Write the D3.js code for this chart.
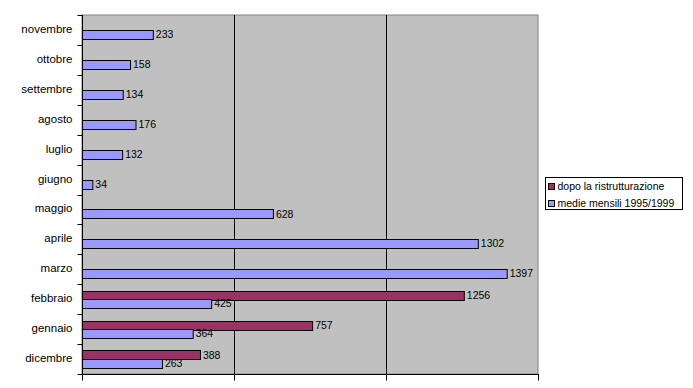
<!DOCTYPE html>
<html><head><meta charset="utf-8">
<script src="https://cdn.jsdelivr.net/npm/d3@7"></script>
<style>body{margin:0;background:#fff}svg{display:block}text{font-family:"Liberation Sans",Arial,sans-serif}</style>
</head><body>
<script>
const categories = ["dicembre","gennaio","febbraio","marzo","aprile","maggio","giugno","luglio","agosto","settembre","ottobre","novembre"];
const dopo = [388, 757, 1256, null, null, null, null, null, null, null, null, null];
const medie = [263, 364, 425, 1397, 1302, 628, 34, 132, 176, 134, 158, 233];
const seriesNames = ["dopo la ristrutturazione", "medie mensili 1995/1999"];
const xTicks = [0, 500, 1000, 1500];

const W = 693, H = 388;
const m = {l: 82, r: 538, t: 15, b: 374};
const svg = d3.select("body").append("svg").attr("width", W).attr("height", H);

const x = d3.scaleLinear().domain([0, 1500]).range([m.l, m.r]);
const y = d3.scaleBand().domain(categories.slice().reverse()).range([m.t, m.b]);
const inner = d3.scaleBand().domain([0, 1]).range([0, y.bandwidth()]).paddingInner(0).paddingOuter(0.75);

svg.append("rect").attr("x", m.l).attr("y", m.t).attr("width", m.r - m.l).attr("height", m.b - m.t)
  .attr("fill", "#c0c0c0").attr("stroke", "#808080").attr("stroke-width", 1);

// gridlines
svg.append("g").selectAll("line").data(xTicks.slice(1, -1)).join("line")
  .attr("x1", d => Math.round(x(d)) + 0.5).attr("x2", d => Math.round(x(d)) + 0.5)
  .attr("y1", m.t).attr("y2", m.b).attr("stroke", "#000");

const colors = ["#993366", "#9999ff"];
const data = [dopo, medie];
data.forEach((vals, si) => {
  const g = svg.append("g");
  const items = categories.map((c, i) => ({c, v: vals[i]})).filter(d => d.v != null);
  g.selectAll("rect").data(items).join("rect")
    .attr("x", m.l + 0.5)
    .attr("y", d => Math.round(y(d.c) + inner(si)) + 0.5)
    .attr("width", d => x(d.v) - m.l)
    .attr("height", Math.round(inner.bandwidth()))
    .attr("fill", colors[si]).attr("stroke", "#000").attr("stroke-width", 1);
  g.selectAll("text").data(items).join("text")
    .attr("x", d => x(d.v) + 3)
    .attr("y", d => y(d.c) + inner(si) + inner.bandwidth() / 2 + 1)
    .attr("dominant-baseline", "middle")
    .attr("font-size", "10.5px").attr("fill", "#000")
    .text(d => d.v);
});

// y axis
const yAxis = svg.append("g").attr("transform", `translate(${m.l + 0.5},0)`);
yAxis.append("line").attr("y1", m.t).attr("y2", m.b + 0.5).attr("stroke", "#000");
const bounds = d3.range(categories.length + 1).map(i => m.t + i * y.step());
yAxis.selectAll("line.t").data(bounds).join("line").attr("class", "t")
  .attr("x1", -5).attr("x2", 0).attr("y1", d => Math.round(d) + 0.5).attr("y2", d => Math.round(d) + 0.5).attr("stroke", "#000");
yAxis.selectAll("text").data(categories).join("text")
  .attr("x", -10).attr("y", d => y(d) + y.bandwidth() / 2)
  .attr("text-anchor", "end").attr("dominant-baseline", "middle")
  .attr("font-size", "11.5px").text(d => d);

// x axis
const xAxis = svg.append("g").attr("transform", `translate(0,${m.b + 0.5})`);
xAxis.append("line").attr("x1", m.l).attr("x2", m.r + 1).attr("stroke", "#000");
xAxis.selectAll("line.t").data(xTicks).join("line").attr("class", "t")
  .attr("x1", d => Math.round(x(d)) + 0.5).attr("x2", d => Math.round(x(d)) + 0.5)
  .attr("y1", 0).attr("y2", 6).attr("stroke", "#000");

// legend
const lg = svg.append("g").attr("transform", "translate(545.5,177.5)");
lg.append("rect").attr("width", 137).attr("height", 32).attr("fill", "#fff").attr("stroke", "#000");
seriesNames.forEach((n, i) => {
  lg.append("rect").attr("x", 3).attr("y", 6 + i * 17).attr("width", 6).attr("height", 6)
    .attr("fill", colors[i]).attr("stroke", "#000");
  lg.append("text").attr("x", 12).attr("y", 9.5 + i * 17).attr("dominant-baseline", "middle")
    .attr("font-size", "10.5px").text(n);
});
</script>
</body></html>
